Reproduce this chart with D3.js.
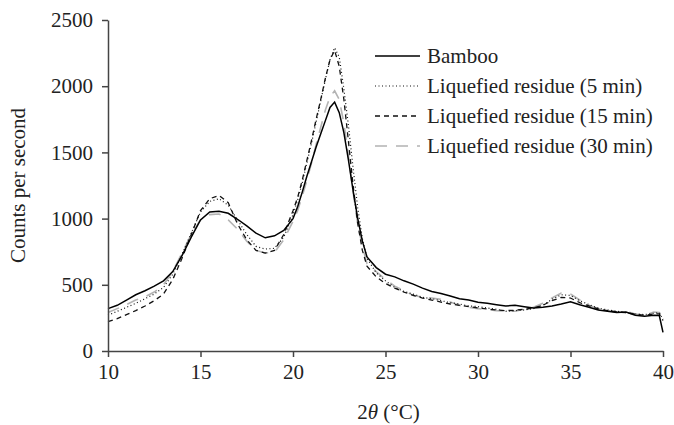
<!DOCTYPE html>
<html>
<head>
<meta charset="utf-8">
<script src="https://cdn.jsdelivr.net/npm/d3@7"></script>
<style>
  body { margin: 0; background: #fff; }
  svg text { font-family: "Liberation Serif", "DejaVu Serif", serif; fill: #222; }
</style>
</head>
<body>
<script>
// 2-theta positions shared by all series
const theta = [10,10.5,11,11.5,12,12.5,13,13.5,14,14.5,15,15.5,16,16.5,17,17.5,18,18.5,19,19.5,
  20,20.25,20.5,20.75,21,21.25,21.5,21.75,22,22.25,22.5,22.75,23,23.25,23.5,23.75,24,
  24.5,25,25.5,26,26.5,27,27.5,28,28.5,29,29.5,30,30.5,31,31.5,32,32.5,33,33.5,34,34.5,35,35.5,36,36.5,37,37.5,38,38.5,39,39.5,
  39.8,40];

const bamboo = [320,345,385,425,455,490,530,600,720,860,990,1050,1055,1040,995,945,890,855,870,910,
  1000,1090,1200,1320,1430,1540,1640,1740,1840,1880,1800,1650,1440,1210,1000,830,710,
  630,580,560,530,505,475,450,435,415,395,385,368,360,350,340,345,335,325,330,340,355,372,350,330,310,300,290,295,270,262,270,
  268,140];

const residue5 = [270,300,330,360,395,430,480,580,730,890,1050,1130,1150,1100,990,880,790,770,775,860,
  1030,1140,1270,1420,1570,1730,1890,2050,2200,2290,2220,1980,1700,1380,1080,850,700,
  590,530,480,450,430,405,395,380,365,355,340,335,325,315,300,305,310,320,345,390,425,420,380,350,325,310,300,290,280,275,285,
  290,240];

const residue15 = [222,245,275,305,340,380,430,540,700,880,1060,1150,1175,1120,960,840,760,740,760,880,
  1060,1160,1290,1440,1590,1750,1900,2060,2200,2270,2150,1900,1580,1250,960,760,640,
  560,510,475,445,420,400,385,370,355,345,335,325,318,310,305,308,315,325,345,380,405,400,365,340,318,305,295,290,278,270,280,
  280,230];

const residue30 = [290,320,350,385,410,445,500,600,740,880,990,1030,1035,990,920,830,760,740,745,840,
  980,1060,1170,1290,1420,1560,1690,1820,1920,1965,1900,1720,1470,1200,960,790,660,
  600,540,490,455,420,405,400,390,370,345,330,320,312,305,300,300,315,330,360,400,438,430,385,345,320,305,295,300,280,270,295,
  290,230];

const seriesNames = ["Bamboo", "Liquefied residue (5 min)", "Liquefied residue (15 min)", "Liquefied residue (30 min)"];
const xTicks = [10, 15, 20, 25, 30, 35, 40];
const yTicks = [0, 500, 1000, 1500, 2000, 2500];

window.onload = function () {

  const DM = {
    width: 674,
    height: 425,
    margin: { top: 20, bottom: 74, left: 108, right: 11 }
  };

  const FONT = '"Liberation Serif", "DejaVu Serif", serif';
  const FS = "21px";

  const styles = [
    { color: "#000", width: 1.5, dash: null },
    { color: "#111", width: 1.2, dash: "1,2.5" },
    { color: "#111", width: 1.3, dash: "5,4" },
    { color: "#b3b3b3", width: 1.6, dash: "12,9" }
  ];
  const allSeries = [bamboo, residue5, residue15, residue30];

  const SVG = d3.select("body")
    .append("svg")
    .attr("width", DM.width)
    .attr("height", DM.height)
    .style("font-family", FONT);

  const xScale = d3.scaleLinear()
    .domain([10, 40])
    .range([DM.margin.left, DM.width - DM.margin.right]);
  const yScale = d3.scaleLinear()
    .domain([0, 2500])
    .range([DM.height - DM.margin.bottom, DM.margin.top]);

  const line = d3.line()
    .x((d, i) => xScale(theta[i]))
    .y(d => yScale(d));

  // draw back to front so the solid bamboo line sits on top
  [3, 2, 1, 0].forEach(k => {
    SVG.append("path")
      .datum(allSeries[k])
      .attr("fill", "none")
      .attr("stroke", styles[k].color)
      .attr("stroke-width", styles[k].width)
      .attr("stroke-dasharray", styles[k].dash)
      .attr("d", line);
  });

  const xAxis = d3.axisBottom(xScale).tickValues(xTicks).tickFormat(d3.format("d"))
    .tickSize(6).tickSizeOuter(0).tickPadding(7);
  const yAxis = d3.axisLeft(yScale).tickValues(yTicks).tickFormat(d3.format("d"))
    .tickSize(6).tickSizeOuter(0).tickPadding(9);

  const gx = SVG.append("g")
    .attr("transform", `translate(0, ${DM.height - DM.margin.bottom})`)
    .call(xAxis);
  const gy = SVG.append("g")
    .attr("transform", `translate(${DM.margin.left}, 0)`)
    .call(yAxis);

  [gx, gy].forEach(g => {
    g.attr("font-family", null).attr("font-size", null);
    g.select(".domain").attr("stroke", "#444").attr("stroke-width", 1.5);
    g.selectAll(".tick line").attr("stroke", "#444").attr("stroke-width", 1.5);
    g.selectAll(".tick text")
      .style("font-family", FONT)
      .style("font-size", FS)
      .attr("fill", "#222");
  });

  // axis titles
  SVG.append("text")
    .attr("x", (xScale(10) + xScale(40)) / 2 + 3)
    .attr("y", 419)
    .attr("text-anchor", "middle")
    .style("font-size", FS)
    .html('2<tspan font-style="italic">θ</tspan> (°C)');

  SVG.append("text")
    .attr("transform", `translate(25, ${(yScale(0) + yScale(2500)) / 2}) rotate(-90)`)
    .attr("text-anchor", "middle")
    .style("font-size", FS)
    .text("Counts per second");

  // legend
  const legend = SVG.append("g").attr("transform", "translate(375, 56)");
  seriesNames.forEach((name, i) => {
    const row = legend.append("g").attr("transform", `translate(0, ${i * 30})`);
    row.append("line")
      .attr("x1", 0).attr("x2", 45)
      .attr("stroke", styles[i].color)
      .attr("stroke-width", styles[i].width)
      .attr("stroke-dasharray", styles[i].dash);
    row.append("text")
      .attr("x", 52)
      .attr("dy", "0.35em")
      .style("font-size", FS)
      .text(name);
  });
};
</script>
</body>
</html>
